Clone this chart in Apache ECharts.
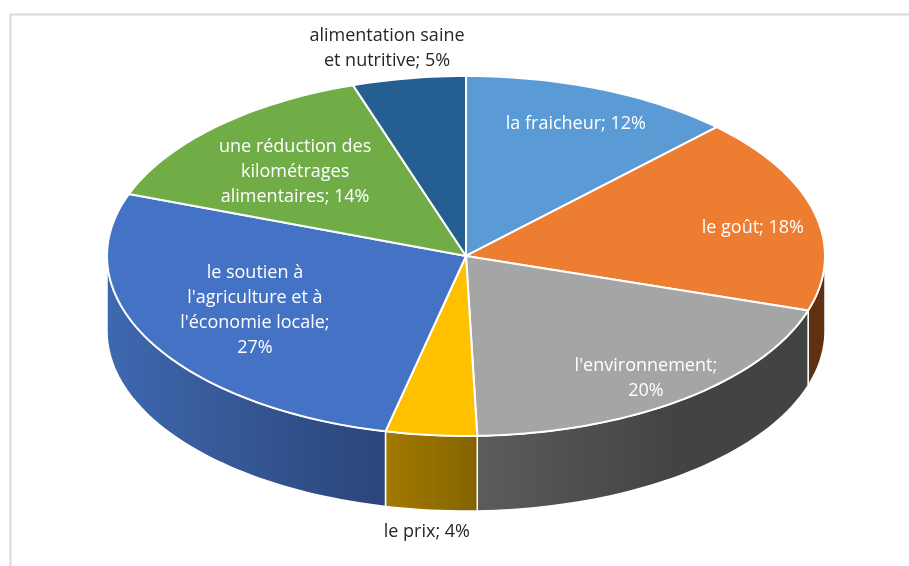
<!DOCTYPE html>
<html>
<head>
<meta charset="utf-8">
<style>html,body{margin:0;padding:0;background:#fff}#c{width:909px;height:566px}</style>
<script src="https://cdn.jsdelivr.net/npm/echarts@6/dist/echarts.min.js"></script>
</head>
<body>
<div id="c"></div>
<script>
// Printed labels
const categories = ["la fraicheur", "le goût", "l'environnement", "le prix",
  "le soutien à l'agriculture et à l'économie locale",
  "une réduction des kilométrages alimentaires", "alimentation saine et nutritive"];
const printedPercent = [12, 18, 20, 4, 27, 14, 5];
const sliceShare = [12.3, 17.6, 19.6, 4.1, 27.0, 14.3, 5.1];

// Layout and style, kept apart from the data
const labelText = [
  "la fraicheur; 12%", "le goût; 18%", "l'environnement;\n20%", "le prix; 4%",
  "le soutien à\nl'agriculture et à\nl'économie locale;\n27%",
  "une réduction des\nkilométrages\nalimentaires; 14%", "alimentation saine\net nutritive; 5%"
];
const labelAt = [[.306,.732],[.799,.155],[.501,-.678],[-.109,-1.533],[-.588,-.3],[-.476,.465],[-.22,1.155]];
const labelColor = ["#fff","#fff","#fff","#262626","#fff","#fff","#262626"];
const topColor = ["#5b9bd5","#ed7d31","#a5a5a5","#ffc000","#4472c4","#70ad47","#255e91"];
const sideStops = [
  [[0,"#3f6f9c"],[1,"#3f6f9c"]],
  [[0,"#5f3110"],[1,"#5f3110"]],
  [[0,"#5c5c5c"],[.6,"#434343"],[1,"#434343"]],
  [[0,"#a37b00"],[1,"#846300"]],
  [[0,"#3f68b0"],[1,"#2a4578"]],
  [[0,"#4f7a32"],[1,"#4f7a32"]],
  [[0,"#1a4266"],[1,"#1a4266"]]
];
const DEPTH = 0.417;

let acc = 0;
const sliceData = sliceShare.map((v, i) => {
  const start = acc; acc += v;
  return [start, acc, i];
});

const chart = echarts.init(document.getElementById('c'), null, {renderer:'canvas'});

function pt(api, deg, drop) {
  const a = deg * Math.PI / 180;
  return api.coord([Math.sin(a), Math.cos(a) - (drop || 0)]);
}
function arc(api, a0, a1, drop) {
  const n = Math.max(2, Math.ceil(Math.abs(a1 - a0) / 1.5));
  const out = [];
  for (let k = 0; k <= n; k++) out.push(pt(api, a0 + (a1 - a0) * k / n, drop));
  return out;
}

function renderItem(params, api) {
  const a0 = api.value(0) * 3.6, a1 = api.value(1) * 3.6, i = api.value(2);
  const children = [];
  const s0 = Math.max(a0, 90), s1 = Math.min(a1, 270);
  if (s1 > s0) {
    children.push({
      type: 'polygon', z2: 1,
      shape: { points: arc(api, s0, s1, 0).concat(arc(api, s1, s0, DEPTH)) },
      style: {
        fill: new echarts.graphic.LinearGradient(0, 0, 1, 0,
          sideStops[i].map(s => ({offset: s[0], color: s[1]}))),
        stroke: '#fff', lineWidth: 1.5, lineJoin: 'round'
      }
    });
  }
  children.push({
    type: 'polygon', z2: 2,
    shape: { points: [api.coord([0, 0])].concat(arc(api, a0, a1, 0)) },
    style: { fill: topColor[i], stroke: '#fff', lineWidth: 2, lineJoin: 'round' }
  });
  const p = api.coord(labelAt[i]);
  children.push({
    type: 'text', z2: 5,
    style: {
      x: p[0], y: p[1], text: labelText[i], fill: labelColor[i],
      font: '18px "Open Sans", sans-serif', align: 'center', verticalAlign: 'middle', lineHeight: 25
    }
  });
  return { type: 'group', children };
}

chart.setOption({
  animation: false,
  backgroundColor: '#fff',
  graphic: [{
    type: 'polyline', silent: true,
    shape: { points: [[10.5, 566], [10.5, 14.5], [909, 14.5]] },
    style: { stroke: '#d9d9d9', lineWidth: 2, fill: null }
  }],
  grid: { left: 107, top: 76, width: 718, height: 435 },
  xAxis: { type: 'value', min: -1, max: 1, show: false },
  yAxis: { type: 'value', min: -1 - DEPTH, max: 1, show: false },
  series: [{
    type: 'custom', coordinateSystem: 'cartesian2d',
    renderItem, data: sliceData, clip: false,
    encode: { x: 0, y: 1 }
  }]
});
</script>
</body>
</html>
